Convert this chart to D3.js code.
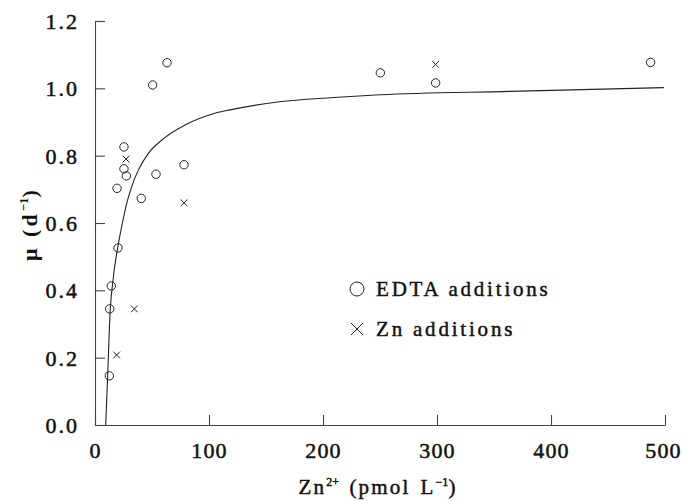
<!DOCTYPE html>
<html>
<head>
<meta charset="utf-8">
<script src="https://cdn.jsdelivr.net/npm/d3@7"></script>
<style>
  html, body { margin: 0; padding: 0; background: #fff; }
  svg text { font-family: "Liberation Serif", "Times New Roman", serif; fill: #111; }
</style>
</head>
<body>
<svg id="chart" width="685" height="501"></svg>
<script>
// ---- data ----
const edtaZn = [12.6, 12.9, 14.3, 20.2, 19.3, 25.4, 27.5, 25.4, 40.6, 50.6, 53.5, 63.2, 78.1, 250.3, 298.8, 487.4];
const edtaMu = [0.146, 0.345, 0.413, 0.526, 0.703, 0.761, 0.740, 0.826, 0.673, 1.010, 0.745, 1.076, 0.773, 1.046, 1.016, 1.077];
const znAddZn = [19.0, 34.5, 27.2, 78.1, 298.8];
const znAddMu = [0.208, 0.345, 0.790, 0.660, 1.071];
const fitZn = [9.4, 11.1, 13.4, 15.2, 21.1, 23.4, 27.8, 32.2, 38, 46.8, 58.5, 79, 105.3, 118.4, 162, 206, 250, 364, 499];
const fitMu = [0, 0.146, 0.345, 0.413, 0.549, 0.589, 0.658, 0.708, 0.757, 0.807, 0.846, 0.891, 0.926, 0.936, 0.960, 0.972, 0.981, 0.991, 1.002];
const xTicks = [0, 100, 200, 300, 400, 500];
const yTicks = [0, 0.2, 0.4, 0.6, 0.8, 1.0, 1.2];
const legendLabels = ["EDTA additions", "Zn additions"];

const svg = d3.select("#chart");
const x = d3.scaleLinear().domain([0, 500]).range([95, 665]);
const y = d3.scaleLinear().domain([0, 1.2]).range([425, 21]);
const ink = "#222";

// axes
const xAxis = d3.axisBottom(x).tickValues(xTicks).tickFormat(d3.format("d"))
  .tickSizeInner(-10).tickSizeOuter(0).tickPadding(17);
const yAxis = d3.axisLeft(y).tickValues(yTicks).tickFormat(d3.format(".1f"))
  .tickSizeInner(-10).tickSizeOuter(0).tickPadding(18);

const gx = svg.append("g").attr("transform", "translate(0,425)").call(xAxis);
const gy = svg.append("g").attr("transform", "translate(95,0)").call(yAxis);
[gx, gy].forEach(g => {
  g.select(".domain").attr("stroke", "#444").attr("stroke-width", 1.1);
  g.selectAll(".tick line").attr("stroke", "#444").attr("stroke-width", 1.1);
  g.selectAll(".tick text")
    .style("font-family", "'Liberation Serif', serif")
    .style("font-size", "22px")
    .attr("fill", "#111")
    .attr("stroke", "#111").attr("stroke-width", 0.5);
});
gy.selectAll(".tick text").attr("dy", "0.34em").style("letter-spacing", "2px").attr("dx", 2);
gx.selectAll(".tick text").style("letter-spacing", "1.2px");
gx.selectAll(".tick").filter(d => d === 500).select("text").attr("dx", -2);

// fitted curve
const fit = fitZn.map((v, i) => [v, fitMu[i]]);
svg.append("path")
  .datum(fit)
  .attr("fill", "none")
  .attr("stroke", ink)
  .attr("stroke-width", 1.1)
  .attr("d", d3.line().x(d => x(d[0])).y(d => y(d[1])).curve(d3.curveMonotoneX));

// EDTA circles
svg.append("g").selectAll("circle")
  .data(edtaZn.map((v, i) => [v, edtaMu[i]]))
  .join("circle")
  .attr("cx", d => x(d[0])).attr("cy", d => y(d[1]))
  .attr("r", 4.2)
  .attr("fill", "none").attr("stroke", ink).attr("stroke-width", 1);

// Zn crosses
const cross = (s) => `M${-s},${-s}L${s},${s}M${-s},${s}L${s},${-s}`;
svg.append("g").selectAll("path")
  .data(znAddZn.map((v, i) => [v, znAddMu[i]]))
  .join("path")
  .attr("transform", d => `translate(${x(d[0])},${y(d[1])})`)
  .attr("d", cross(3.4))
  .attr("fill", "none").attr("stroke", ink).attr("stroke-width", 1);

// legend
const leg = svg.append("g");
leg.append("circle").attr("cx", 357).attr("cy", 289).attr("r", 7)
  .attr("fill", "none").attr("stroke", ink).attr("stroke-width", 1);
leg.append("path").attr("transform", "translate(357,329)").attr("d", cross(6))
  .attr("fill", "none").attr("stroke", ink).attr("stroke-width", 1);
leg.selectAll("text").data(legendLabels).join("text")
  .attr("x", 376).attr("y", (d, i) => 296 + i * 40)
  .style("font-size", "21px").style("letter-spacing", "2.8px")
  .attr("stroke", "#111").attr("stroke-width", 0.45)
  .text(d => d);

// x title
const xt = svg.append("text").attr("x", 378).attr("y", 494)
  .attr("text-anchor", "middle")
  .style("font-size", "21px").style("letter-spacing", "2.2px")
  .attr("stroke", "#111").attr("stroke-width", 0.45);
xt.append("tspan").text("Zn");
xt.append("tspan").attr("dy", -8).style("font-size", "12px").style("letter-spacing", "0px").text("2+");
xt.append("tspan").attr("dy", 8).attr("dx", 3).text(" (pmol");
xt.append("tspan").attr("dx", 10).text("L");
xt.append("tspan").attr("dy", -8).style("font-size", "12px").style("letter-spacing", "0px").text("\u22121");
xt.append("tspan").attr("dy", 8).text(")");

// y title
const yt = svg.append("text")
  .attr("transform", "translate(37,224) rotate(-90)")
  .attr("text-anchor", "middle")
  .style("font-size", "22px").style("letter-spacing", "3px")
  .style("font-weight", "bold");
yt.append("tspan").text("\u03BC (d");
yt.append("tspan").attr("dy", -9).style("font-size", "13px").style("letter-spacing", "0px").text("\u22121");
yt.append("tspan").attr("dy", 9).text(")");
</script>
</body>
</html>
